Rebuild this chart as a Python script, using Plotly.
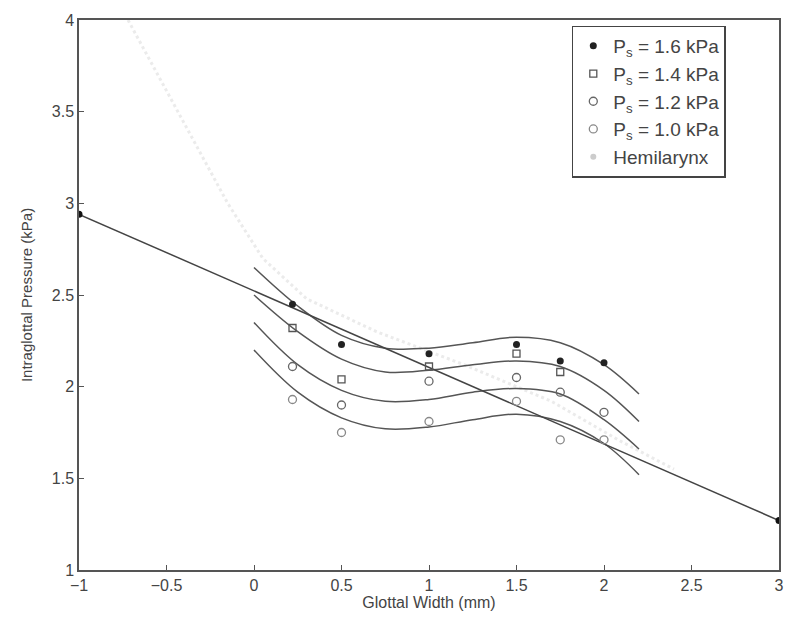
import plotly.graph_objects as go

# Measured points (x = glottal width in mm, y = intraglottal pressure in kPa)
x_meas = [0.22, 0.5, 1.0, 1.5, 1.75, 2.0]
p16_y = [2.45, 2.23, 2.18, 2.23, 2.14, 2.13]
p14_x = [0.22, 0.5, 1.0, 1.5, 1.75]
p14_y = [2.32, 2.04, 2.11, 2.18, 2.08]
p12_y = [2.11, 1.90, 2.03, 2.05, 1.97, 1.86]
p10_y = [1.93, 1.75, 1.81, 1.92, 1.71, 1.71]

# Fitted curves
fit_x = [0, 0.25, 0.5, 0.75, 1.0, 1.25, 1.5, 1.75, 2.0, 2.2]
fit16 = [2.65, 2.44, 2.28, 2.21, 2.21, 2.24, 2.27, 2.24, 2.12, 1.96]
fit14 = [2.50, 2.30, 2.15, 2.08, 2.09, 2.12, 2.14, 2.11, 1.98, 1.81]
fit12 = [2.35, 2.12, 1.98, 1.92, 1.93, 1.97, 1.99, 1.96, 1.82, 1.66]
fit10 = [2.20, 1.97, 1.83, 1.77, 1.78, 1.82, 1.85, 1.81, 1.69, 1.52]

# Straight line with end points
line_x = [-1, 3]
line_y = [2.94, 1.27]

# Faint hemilarynx trace
hemi_x = [-0.72, -0.55, -0.35, -0.15, 0.05, 0.3, 0.7, 1.2, 1.7, 2.1, 2.4]
hemi_y = [4.0, 3.7, 3.35, 3.0, 2.7, 2.48, 2.3, 2.12, 1.92, 1.7, 1.55]

x_ticks = [-1, -0.5, 0, 0.5, 1, 1.5, 2, 2.5, 3]
x_labels = ["−1", "−0.5", "0", "0.5", "1", "1.5", "2", "2.5", "3"]
y_ticks = [1, 1.5, 2, 2.5, 3, 3.5, 4]
y_labels = ["1", "1.5", "2", "2.5", "3", "3.5", "4"]

FONT = "Liberation Sans, Arial"

fig = go.Figure()

fig.add_trace(go.Scatter(x=hemi_x, y=hemi_y, mode="lines", line=dict(color="#ebebeb", width=3, dash="dot"),
                         showlegend=False, hoverinfo="skip"))

for fy in [fit16, fit14, fit12, fit10]:
    fig.add_trace(go.Scatter(x=fit_x, y=fy, mode="lines", line=dict(color="#555555", width=1.5, shape="spline"),
                             showlegend=False))

fig.add_trace(go.Scatter(x=line_x, y=line_y, mode="lines+markers", line=dict(color="#444444", width=1.5),
                         marker=dict(color="#111111", size=7), showlegend=False))

fig.add_trace(go.Scatter(x=x_meas, y=p16_y, mode="markers", name="P<sub>s</sub> = 1.6 kPa",
                         marker=dict(symbol="circle", color="#222222", size=7)))
fig.add_trace(go.Scatter(x=p14_x, y=p14_y, mode="markers", name="P<sub>s</sub> = 1.4 kPa",
                         marker=dict(symbol="square-open", color="#555555", size=7, line=dict(width=1.3))))
fig.add_trace(go.Scatter(x=x_meas, y=p12_y, mode="markers", name="P<sub>s</sub> = 1.2 kPa",
                         marker=dict(symbol="circle-open", color="#666666", size=8, line=dict(width=1.3))))
fig.add_trace(go.Scatter(x=x_meas, y=p10_y, mode="markers", name="P<sub>s</sub> = 1.0 kPa",
                         marker=dict(symbol="circle-open", color="#888888", size=8, line=dict(width=1.3))))
fig.add_trace(go.Scatter(x=[None], y=[None], mode="markers", name="Hemilarynx",
                         marker=dict(symbol="circle", color="#cccccc", size=6)))

axis_common = dict(showline=True, linecolor="#555555", linewidth=1.5, mirror=True, ticks="inside",
                   ticklen=5, tickcolor="#555555", showgrid=False, zeroline=False,
                   tickfont=dict(family=FONT, size=16, color="#444444"))

fig.update_layout(
    width=796, height=623,
    margin=dict(l=79, r=15, t=15, b=53),
    paper_bgcolor="white", plot_bgcolor="white",
    xaxis=dict(range=[-1, 3], tickvals=x_ticks, ticktext=x_labels,
               title=dict(text="Glottal Width (mm)", standoff=4,
                          font=dict(family=FONT, size=16, color="#444444")),
               **axis_common),
    yaxis=dict(range=[1, 4], tickvals=y_ticks, ticktext=y_labels,
               title=dict(text="Intraglottal Pressure (kPa)", standoff=16,
                          font=dict(family=FONT, size=15, color="#444444")),
               **axis_common),
    legend=dict(x=0.704, y=0.99, xanchor="left", yanchor="top", bordercolor="#444444", borderwidth=1.5,
                bgcolor="white", font=dict(family=FONT, size=19, color="#444444"),
                tracegroupgap=0),
)

fig.write_html("out.html")
